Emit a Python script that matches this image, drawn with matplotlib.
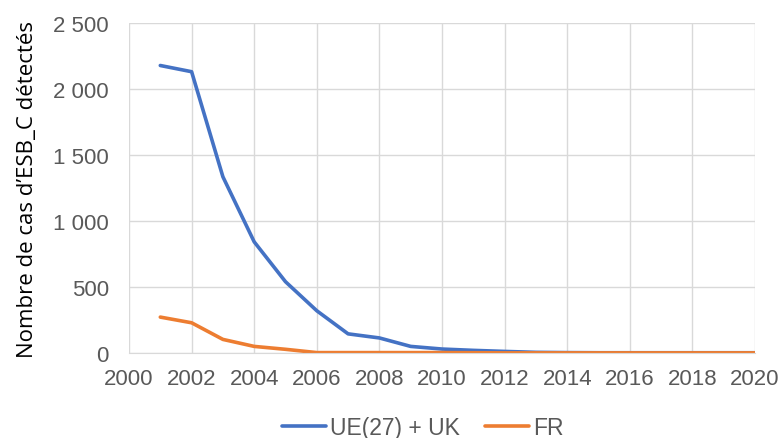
import matplotlib.pyplot as plt
from matplotlib.ticker import FuncFormatter

years = list(range(2001, 2021))
ue_uk = [2178, 2131, 1335, 842, 540, 320, 145, 114, 50, 30, 20, 12, 5, 3, 2, 2, 2, 2, 2, 2]
fr = [272, 229, 103, 50, 28, 3, 3, 3, 3, 3, 2, 1, 1, 1, 1, 1, 1, 1, 1, 1]

GREY = "#595959"
GRID = "#d9d9d9"

plt.rcParams["font.family"] = ["Liberation Sans", "DejaVu Sans"]

fig = plt.figure(figsize=(7.82, 4.39), dpi=100)
ax = fig.add_axes([129 / 782, 1 - 354 / 439, (755 - 129) / 782, (354 - 24) / 439])

ax.plot(years, ue_uk, color="#4472c4", lw=2.6, label="UE(27) + UK", solid_capstyle="round")
ax.plot(years, fr, color="#ed7d31", lw=2.6, label="FR", solid_capstyle="round")

ax.set_xlim(2000, 2020)
ax.set_ylim(0, 2500)
ax.set_xticks(range(2000, 2021, 2))
ax.set_yticks(range(0, 2501, 500))
ax.yaxis.set_major_formatter(FuncFormatter(lambda v, p: f"{int(v):,}".replace(",", " ")))
ax.grid(True, color=GRID, lw=1)
ax.set_axisbelow(True)
for s in ["top", "right", "left"]:
    ax.spines[s].set_visible(False)
ax.spines["bottom"].set_color(GRID)
ax.tick_params(length=0, labelsize=16, colors=GREY)
ax.tick_params(axis="y", pad=14.5)
ax.tick_params(axis="x", pad=11)

fig.text(28 / 782, 1 - 190 / 439, "Nombre de cas d\u2019ESB_C détectés", rotation=90,
         ha="center", va="center", family=["Open Sans", "DejaVu Sans"], fontsize=16, color="black")

fig.legend(loc="center", bbox_to_anchor=(423 / 782, 1 - 429 / 439), ncol=2, frameon=False,
           fontsize=16.5, labelcolor=GREY, handlelength=1.9, columnspacing=1.1, handletextpad=0.2)

fig.savefig("out.png", dpi=100)
